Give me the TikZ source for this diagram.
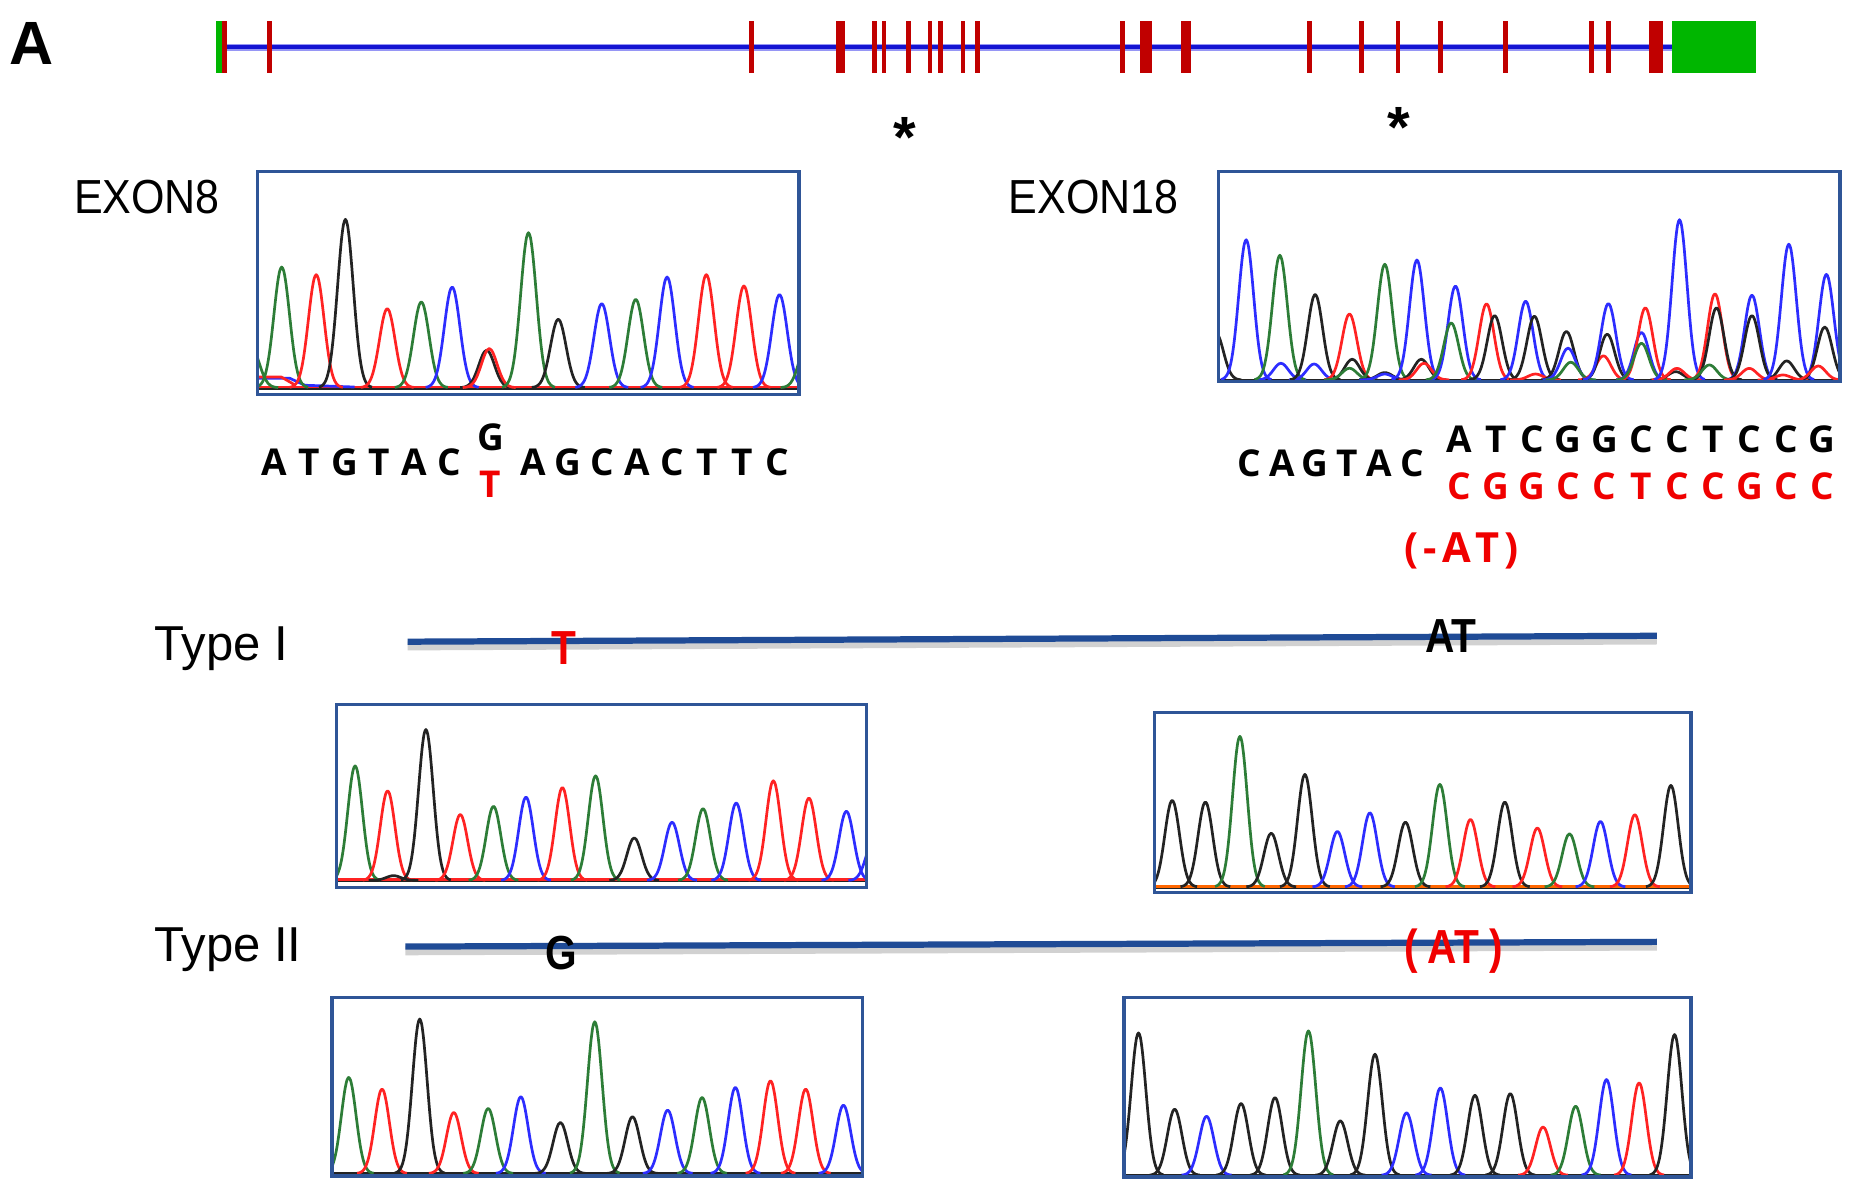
\documentclass[tikz,border=0pt]{standalone}
\usepackage{fontspec}
\setmainfont{Liberation Sans}
\newfontfamily\labfont[FakeStretch=0.9]{Liberation Sans}
\newfontfamily\seqfont{Open Sans}
\newfontfamily\narrowfont[FakeStretch=0.85]{Liberation Sans}
\definecolor{genebl}{RGB}{20,20,210}
\definecolor{genehalo}{RGB}{150,150,245}
\definecolor{exred}{RGB}{192,0,0}
\definecolor{utrgreen}{RGB}{0,182,0}
\definecolor{boxbl}{RGB}{47,85,151}
\definecolor{typebl}{RGB}{31,75,150}
\definecolor{cG}{RGB}{45,125,55}
\definecolor{cR}{RGB}{255,35,35}
\definecolor{cB}{RGB}{45,45,255}
\definecolor{cK}{RGB}{35,35,35}
\definecolor{seqred}{RGB}{240,0,0}
\newcommand{\drawchrom}[3]{%
  \foreach \c/\t/\k in {#3}{%
    \draw[color=\k, chromline] plot[domain=-3.4:3.4, samples=27, smooth]
      ({\c+#1*\x},{#2+(\t-#2)*exp(-0.5*\x*\x)});
  }%
}
\begin{document}
\begin{tikzpicture}[x=0.01cm,y=-0.01cm,
  chromline/.style={line width=0.65pt, line join=round},
  chrombox/.style={draw=boxbl, line width=0.8pt},
  seqtxt/.style={font=\seqfont\bfseries\fontsize{8.9}{10}\selectfont, inner sep=0pt, anchor=base},
  lab/.style={font=\labfont\fontsize{11.5}{13}\selectfont, inner sep=0pt, anchor=base west},
  typelab/.style={font=\fontsize{11.8}{13}\selectfont, inner sep=0pt, anchor=base west},
  mut/.style={font=\narrowfont\bfseries\fontsize{11.5}{13}\selectfont, inner sep=0pt, anchor=base},
  shadowline/.style={draw=black!40, line width=2.2pt, opacity=0.45},
  star/.style={font=\bfseries\fontsize{14}{16}\selectfont, inner sep=0pt, anchor=base}]
\useasboundingbox (0,0) rectangle (1568,1009);
\fill[white] (0,0) rectangle (1568,1009);

% ---------- panel letter ----------
\node[font=\bfseries\fontsize{14.7}{16}\selectfont, inner sep=0pt, anchor=base] (panelA) at (27,55) {A};

% ---------- gene structure ----------
\draw[genehalo, line width=1.8pt] (185,40) -- (1415,40);
\draw[genebl, line width=1pt] (185,40) -- (1415,40);
\fill[utrgreen] (183,18) rectangle (187.5,62);
\fill[exred] (187.5,18) rectangle (192.5,62);
\foreach \b in {228,636,740,748,769,787,796,815,827,950,1108,1152,1183,1219,1274,1347,1361}
  \fill[exred] (\b-2,18) rectangle (\b+2,62);
\fill[exred] (707,18) rectangle (715,62);
\fill[exred] (965,18) rectangle (975,62);
\fill[exred] (999,18) rectangle (1008,62);
\fill[exred] (1395,18) rectangle (1407,62);
\fill[utrgreen] (1415,18) rectangle (1486,62);
\node[star] (star1) at (766,133) {*};
\node[star] (star2) at (1184,125) {*};

% ---------- EXON8 ----------
\node[lab] (ex8lab) at (62,181) {EXON8};
\begin{scope}
\clip (218,145) rectangle (676,334);
\draw[cK, chromline] (218,328.5) -- (676,328.5);
\draw[cR, chromline] (218,327.5) -- (676,327.5);
\draw[cB, chromline] (218,320) -- (245,320) -- (258,326) -- (300,327.5);
\draw[cR, chromline] (218,319) -- (238,319) -- (250,326);
\drawchrom{6.6}{328}{213/295/cG, 238.4/226/cG, 267.6/232.4/cR, 292.3/185.6/cK, 327.7/261.2/cR,
  356.5/255.5/cG, 382.6/242.9/cB, 411.8/296.4/cK, 414/295/cR, 447.2/196.9/cG,
  472.4/270.2/cK, 509.2/257/cB, 538/253.3/cG, 564.5/234.4/cB, 597.7/232.4/cR,
  629.5/242/cR, 659.6/249.3/cB, 683/290/cG}
\end{scope}
\draw[chrombox] (218,145) rectangle (676,334);

\foreach \p/\l [count=\i] in {232.5/A,262/T,291.5/G,321/T,350.5/A,380/C,451/A,480.5/G,510/C,539.5/A,569/C,598.5/T,628/T,657.5/C}
  \node[seqtxt] (ea\i) at (\p,402) {\l};
\node[seqtxt] (e8G) at (415,381) {G};
\node[seqtxt, text=seqred] (e8T) at (415,421) {T};

% ---------- EXON18 ----------
\node[lab] (ex18lab) at (853,181) {EXON18};
\begin{scope}
\clip (1031,145) rectangle (1557,323);
\draw[cK, chromline] (1031,321.5) -- (1557,321.5);
\drawchrom{6.3}{321.5}{1029/282/cK, 1054.5/202.9/cB, 1083.9/307.4/cB, 1083/216/cG, 1112/308/cB,
  1112.9/249.2/cK, 1141.9/265.7/cR, 1144.2/304/cK, 1141.9/311.6/cG, 1171.8/223.6/cG,
  1171.8/315.3/cK, 1171.8/316.5/cB, 1199/220/cB, 1202.7/304/cK, 1205/307.4/cR,
  1231.6/242.1/cB, 1228/273.3/cG, 1257.9/257.1/cR, 1264.8/267.1/cK, 1291/254.9/cB,
  1298.4/267.6/cK, 1299.3/316.5/cR, 1325.5/280.4/cK, 1326.9/294.6/cB, 1329.2/306.5/cG,
  1356.8/301.1/cR, 1360/282.7/cK, 1361/256.9/cB, 1389/281.3/cB, 1392.3/260.5/cR,
  1389/290.4/cG, 1418/314.5/cK, 1419/311.7/cR, 1421.2/185.9/cB, 1451.2/248.6/cR,
  1452.5/260.5/cK, 1446.5/308.8/cG, 1482.5/249.8/cB, 1482.5/267.1/cK, 1480.2/311.7/cR,
  1511.9/305.4/cK, 1508.7/317.3/cR, 1513.7/206.6/cB, 1545.5/232.2/cB, 1544.1/276.7/cK,
  1538.6/309.7/cR}
\end{scope}
\draw[chrombox] (1031,145) rectangle (1557,323);

\foreach \p/\l [count=\i] in {1057.5/C,1085/A,1112.5/G,1140/T,1167.5/A,1195/C}
  \node[seqtxt] (eb\i) at (\p,403) {\l};
\foreach \l [count=\i] in {A,T,C,G,G,C,C,T,C,C,G}
  \node[seqtxt] (ec\i) at ({1235+30.7*(\i-1)},383) {\l};
\foreach \l [count=\i] in {C,G,G,C,C,T,C,C,G,C,C}
  \node[seqtxt, text=seqred] (ed\i) at ({1235+30.7*(\i-1)},423) {\l};
\node[seqtxt, text=seqred, font=\seqfont\bfseries\fontsize{10}{12}\selectfont] (delAT) at (1237,476)
  {(\kern1.2pt-\kern1.2pt A\kern1.2pt T\kern1.2pt)};

% ---------- Type I ----------
\node[typelab] (t1lab) at (130,559) {Type I};
\draw[shadowline] (345,546.5) -- (1402,541.5);
\draw[typebl, line width=1.5pt] (345,543) -- (1402,538);
\node[mut, text=seqred] (t1T) at (477,562) {T};
\node[mut] (t1AT) at (1228,552) {AT};

\begin{scope}
\clip (285,596) rectangle (733,751);
\draw[cK, chromline] (285,745.5) -- (733,745.5);
\draw[cR, chromline] (285,744.5) -- (733,744.5);
\drawchrom{6.2}{745}{300.5/648.1/cG, 328/669.2/cR, 333/741/cK, 360.4/617.3/cK, 389.5/689.3/cR,
  417.6/682.3/cG, 445.1/674.5/cB, 475.9/666.4/cR, 504/656.5/cG, 536.7/709/cK,
  568.7/695.8/cB, 594.9/684.3/cG, 623/679.5/cB, 654.4/660.7/cR, 684.5/675.3/cR,
  716.2/686.5/cB, 739/712/cB}
\end{scope}
\draw[chrombox] (285,596) rectangle (733,751);

\begin{scope}
\clip (977,603) rectangle (1431,755);
\draw[cK, chromline] (977,751) -- (1431,751);
\draw[orange!80!red, chromline] (977,750) -- (1431,750);
\drawchrom{6.2}{750.5}{991.9/677.3/cK, 1020/678.7/cK, 1049.2/623.1/cG, 1075.7/705/cK,
  1104.2/655.3/cK, 1131.7/703.6/cB, 1159.2/687.8/cB, 1189.3/695.7/cK, 1218.4/663.7/cG,
  1244.3/693.4/cR, 1273.4/678.7/cK, 1300.9/700.7/cR, 1328.1/705.5/cG, 1354.3/695.1/cB,
  1383.4/689.4/cR, 1413.9/664.6/cK}
\end{scope}
\draw[chrombox] (977,603) rectangle (1431,755);

% ---------- Type II ----------
\node[typelab] (t2lab) at (130,814) {Type II};
\draw[shadowline] (343,804.5) -- (1402,800.5);
\draw[typebl, line width=1.5pt] (343,801) -- (1402,797);
\node[mut] (t2G) at (475,820) {G};
\node[mut, text=seqred] (t2AT) at (1230,815) {(\kern2.5pt AT\kern2.5pt)};

\begin{scope}
\clip (281,844) rectangle (730,995);
\draw[cK, chromline] (281,993) -- (730,993);
\drawchrom{6.2}{993}{295.1/911.7/cG, 323.3/921.6/cR, 355.2/862.3/cK, 384/941.4/cR,
  413.1/938/cG, 440.7/928.1/cB, 474.2/949.8/cK, 503.3/864.6/cG, 535.2/945/cK,
  565/939.4/cB, 594.1/928.7/cG, 622.3/920.2/cB, 652/914.6/cR, 681.8/921.6/cR,
  713.7/935.2/cB}
\end{scope}
\draw[chrombox] (281,844) rectangle (730,995);

\begin{scope}
\clip (951,844) rectangle (1431,996);
\draw[cK, chromline] (951,994.5) -- (1431,994.5);
\drawchrom{6.2}{994.5}{963.4/874/cK, 994/938.6/cK, 1021/944.6/cB, 1050.2/933.8/cK,
  1078.9/928.8/cK, 1107.2/872.3/cG, 1134.2/948.5/cK, 1163.5/892/cK, 1190.2/941.7/cB,
  1218.8/920.6/cB, 1248.1/926.8/cK, 1278/925.4/cK, 1305.7/953.6/cR, 1333.3/936.1/cG,
  1359.4/913.5/cB, 1387/916.3/cR, 1417/875.4/cK}
\end{scope}
\draw[chrombox] (951,844) rectangle (1431,996);
\end{tikzpicture}
\end{document}
